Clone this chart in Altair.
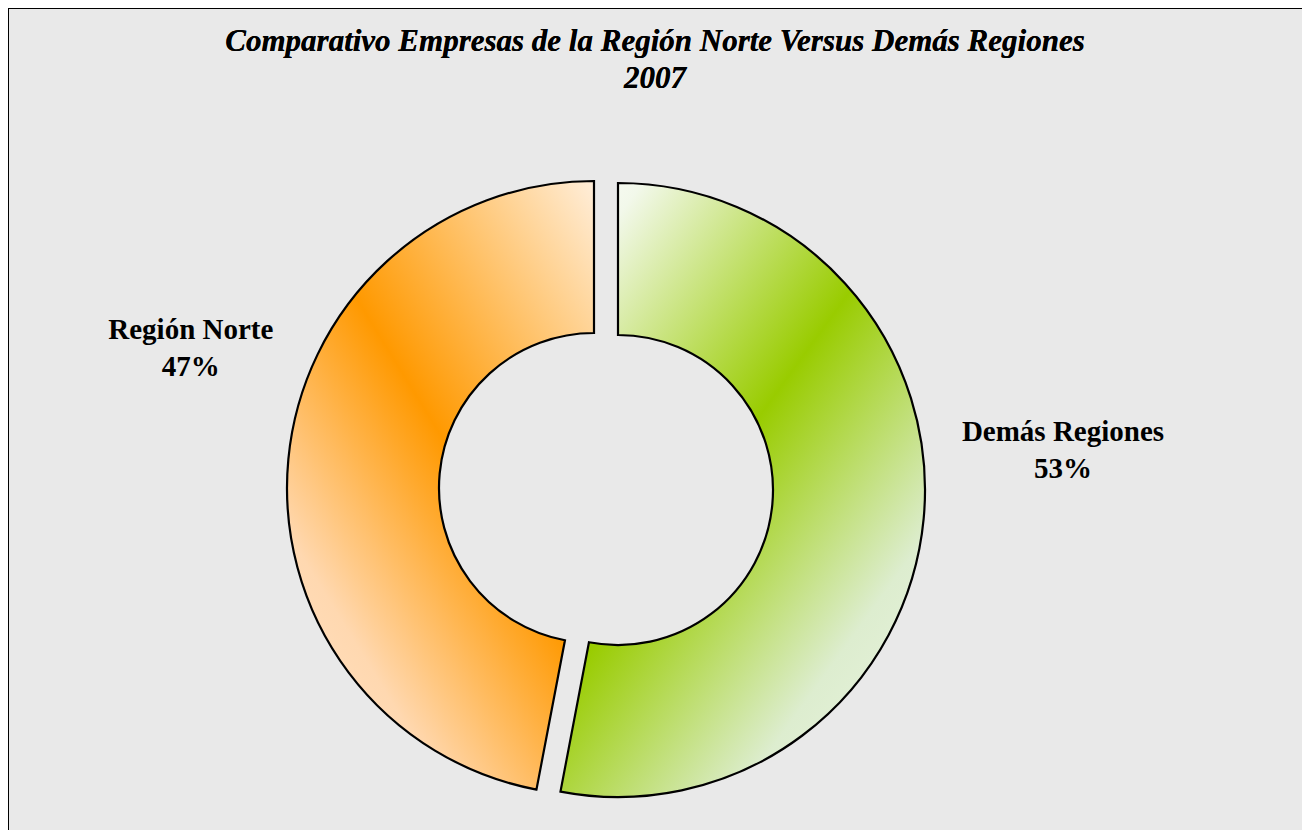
import altair as alt
import pandas as pd

# ---- data ----
categories = ["Demás Regiones", "Región Norte"]
values = [53, 47]
order = [0, 1]
title_lines = ["Comparativo Empresas de la Región Norte Versus Demás Regiones", "2007"]

df = pd.DataFrame({"cat": categories, "value": values, "order": order})

W, H = 1294, 822
CX, CY = 598, 481
R_OUT, R_IN = 307, 155
FONT = "Liberation Serif"

theta_scale = alt.Scale(domain=[0, 100])

green_fill = alt.Gradient(
    gradient="linear",
    stops=[
        alt.GradientStop(color="#FFFFFF", offset=0.0),
        alt.GradientStop(color="#F2F8EA", offset=0.1),
        alt.GradientStop(color="#99CC00", offset=0.45),
        alt.GradientStop(color="#DDEDCF", offset=0.76),
        alt.GradientStop(color="#EEF6E6", offset=1.0),
    ],
    x1=0, y1=0, x2=0.9, y2=1.1,
)
orange_fill = alt.Gradient(
    gradient="linear",
    stops=[
        alt.GradientStop(color="#FFEEDA", offset=0.0),
        alt.GradientStop(color="#FF9900", offset=0.45),
        alt.GradientStop(color="#FFD8B0", offset=0.76),
        alt.GradientStop(color="#FFE6CC", offset=1.0),
    ],
    x1=1, y1=0, x2=0.1, y2=1.1,
)

base = alt.Chart()


def arc_layer(cat, fill, xo, yo):
    return base.transform_filter(alt.datum.cat == cat).mark_arc(
        fill=fill, stroke="#000000", strokeWidth=2.2,
        innerRadius=R_IN, outerRadius=R_OUT, xOffset=xo, yOffset=yo,
    ).encode(
        theta=alt.Theta("start:Q", scale=theta_scale, stack=False),
        theta2="cum:Q",
        x=alt.value(CX), y=alt.value(CY),
    )


def label_layer(cat, r, dy):
    return base.transform_filter(alt.datum.cat == cat).mark_text(
        font=FONT, fontSize=29, fontWeight="bold", color="#000000",
        lineBreak="\n", lineHeight=37, align="center", baseline="middle", dy=dy,
    ).encode(
        theta=alt.Theta("mid:Q", scale=theta_scale, stack=False),
        radius=alt.value(r),
        x=alt.value(CX), y=alt.value(CY),
        text="label:N",
    )


frame_left = base.mark_rule(color="#000000", strokeWidth=2).encode(
    x=alt.value(0), y=alt.value(0), y2=alt.value(H))
frame_top = base.mark_rule(color="#000000", strokeWidth=2).encode(
    x=alt.value(0), x2=alt.value(W), y=alt.value(0))

title = base.mark_text(
    font=FONT, fontSize=31, fontWeight="bold", fontStyle="italic", color="#000000",
    lineHeight=37, align="center", baseline="alphabetic",
).encode(x=alt.value(W / 2), y=alt.value(43), text=alt.value(title_lines))

chart = alt.layer(
    frame_left, frame_top,
    arc_layer("Demás Regiones", green_fill, 12, 1),
    arc_layer("Región Norte", orange_fill, -12, -1),
    label_layer("Demás Regiones", 459, -100),
    label_layer("Región Norte", 417, -120),
    title,
    data=df,
).transform_window(
    cum="sum(value)", sort=[alt.SortField("order")], frame=[None, 0]
).transform_joinaggregate(
    total="sum(value)"
).transform_calculate(
    start="datum.cum - datum.value",
    mid="datum.cum - datum.value / 2",
    label="datum.cat + '\\n' + format(datum.value / datum.total, '.0%')",
).properties(
    width=W, height=H, autosize=alt.AutoSizeParams(type="none"), padding=0,
    background="#E9E9E9",
).configure_view(stroke=None)

chart.save("out.html", embed_options={"renderer": "svg", "actions": False})
